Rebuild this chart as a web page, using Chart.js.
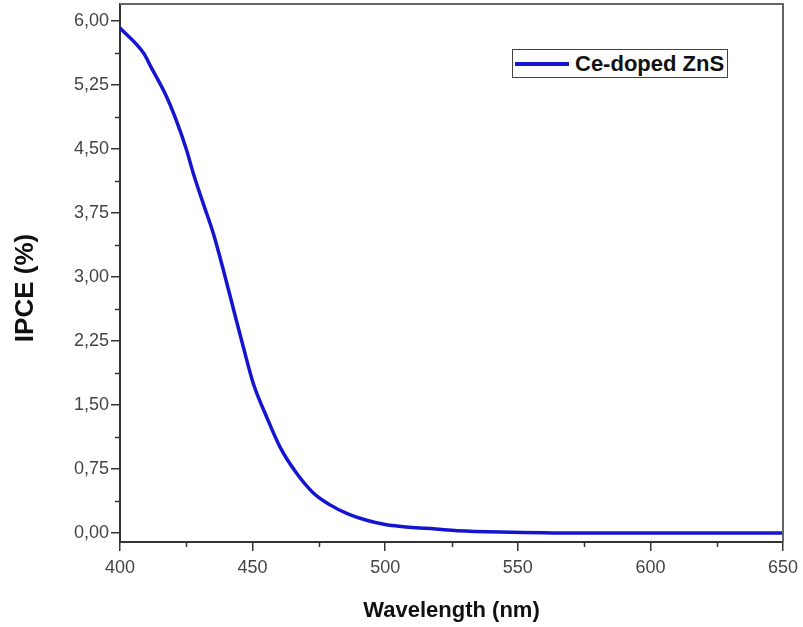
<!DOCTYPE html>
<html>
<head>
<meta charset="utf-8">
<script src="https://cdn.jsdelivr.net/npm/chart.js@4.4.0/dist/chart.umd.min.js"></script>
<style>
  body { margin: 0; background: #fff; }
  #wrap { position: relative; width: 803px; height: 627px; }
  #legend {
    position: absolute; left: 512px; top: 49px; width: 216px; height: 29px;
    box-sizing: border-box; border: 1px solid #444; background: #fff;
    font: bold 22px "Liberation Sans", Arial, sans-serif; color: #111;
    display: flex; align-items: center; white-space: nowrap;
  }
  #legend .swatch { width: 54px; height: 4px; margin: 0 6px 0 2px; background: #1515d0; }
</style>
</head>
<body>
<div id="wrap">
  <canvas id="chart" width="803" height="627"></canvas>
  <div id="legend"></div>
</div>
<script>
// values
const wavelength = [400, 409, 411.7, 417, 420.7, 425.1, 427.6, 431.4, 435.2, 439, 443.4, 446.5, 450.3, 455.3, 460.3, 466.6, 472.9, 479.2, 485.5, 493, 500, 509, 519, 527, 548, 575, 600, 650];
const ipce = [5.92, 5.62, 5.46, 5.15, 4.88, 4.49, 4.22, 3.86, 3.51, 3.08, 2.55, 2.18, 1.75, 1.36, 1.01, 0.70, 0.47, 0.33, 0.23, 0.15, 0.10, 0.067, 0.047, 0.027, 0.01, 0.0, 0.0, 0.0];
const seriesName = "Ce-doped ZnS";
const xTitle = "Wavelength (nm)";
const yTitle = "IPCE (%)";
const yTicks = [0, 0.75, 1.5, 2.25, 3, 3.75, 4.5, 5.25, 6];
const xTicks = [400, 450, 500, 550, 600, 650];
const yMinor = [0.375, 1.125, 1.875, 2.625, 3.375, 4.125, 4.875, 5.625];
const xMinor = [425, 475, 525, 575, 625];

const lineColor = '#1515d0';
const axisColor = '#333';
const fontFamily = '"Liberation Sans", Arial, sans-serif';
const tickFont = { family: fontFamily, size: 18 };

// legend in the top right of the plot
document.getElementById('legend').innerHTML =
  '<span class="swatch"></span><span>' + seriesName + '</span>';

// frame on top/right, minor ticks and the y title (sits a bit below centre)
const framePlugin = {
  id: 'frame',
  afterDraw(chart) {
    const ctx = chart.ctx;
    const a = chart.chartArea;
    const xs = chart.scales.x, ys = chart.scales.y;
    ctx.save();
    ctx.strokeStyle = '#666';
    ctx.lineWidth = 2;
    ctx.beginPath();
    ctx.moveTo(a.left, a.top);
    ctx.lineTo(a.right, a.top);
    ctx.lineTo(a.right, a.bottom);
    ctx.stroke();

    ctx.strokeStyle = axisColor;
    ctx.lineWidth = 1.5;
    ctx.beginPath();
    yMinor.forEach(v => {
      const y = Math.round(ys.getPixelForValue(v)) + 0.5;
      ctx.moveTo(a.left - 5, y);
      ctx.lineTo(a.left, y);
    });
    xMinor.forEach(v => {
      const x = Math.round(xs.getPixelForValue(v)) + 0.5;
      ctx.moveTo(x, a.bottom);
      ctx.lineTo(x, a.bottom + 5);
    });
    ctx.stroke();

    ctx.translate(26, 288);
    ctx.rotate(-Math.PI / 2);
    ctx.fillStyle = '#111';
    ctx.font = 'bold 26px ' + fontFamily;
    ctx.textAlign = 'center';
    ctx.textBaseline = 'middle';
    ctx.fillText(yTitle, 0, 0);
    ctx.restore();
  }
};

new Chart(document.getElementById('chart').getContext('2d'), {
  type: 'line',
  data: {
    datasets: [{
      label: seriesName,
      data: wavelength.map((w, i) => ({ x: w, y: ipce[i] })),
      borderColor: lineColor,
      borderWidth: 3.5,
      pointRadius: 0,
      fill: false,
      cubicInterpolationMode: 'monotone'
    }]
  },
  options: {
    responsive: false,
    animation: false,
    devicePixelRatio: 1,
    layout: { padding: { left: 0, top: 4, right: 20, bottom: 0 } },
    plugins: { legend: { display: false }, tooltip: { enabled: false } },
    scales: {
      x: {
        type: 'linear',
        min: 400,
        max: 650,
        afterBuildTicks: s => { s.ticks = xTicks.map(v => ({ value: v })); },
        afterFit: s => { s.height = 85; s.paddingLeft = 0; s.paddingRight = 0; },
        border: { color: axisColor, width: 2 },
        grid: { drawOnChartArea: false, drawTicks: true, tickLength: 9, tickColor: axisColor, lineWidth: 1.5 },
        ticks: { color: '#444', font: tickFont, padding: 6, maxRotation: 0 },
        title: {
          display: true,
          text: xTitle,
          color: '#111',
          font: { family: fontFamily, size: 22, weight: 'bold' },
          padding: { top: 0, bottom: 3 }
        }
      },
      y: {
        type: 'linear',
        min: -0.105,
        max: 6.2,
        afterBuildTicks: s => { s.ticks = yTicks.map(v => ({ value: v })); },
        afterFit: s => { s.width = 120; s.paddingTop = 0; s.paddingBottom = 0; },
        border: { color: axisColor, width: 2 },
        grid: { drawOnChartArea: false, drawTicks: true, tickLength: 9, tickColor: axisColor, lineWidth: 1.5 },
        ticks: {
          color: '#444',
          font: tickFont,
          padding: 2,
          callback: v => v.toFixed(2).replace('.', ',')
        }
      }
    }
  },
  plugins: [framePlugin]
});
</script>
</body>
</html>
